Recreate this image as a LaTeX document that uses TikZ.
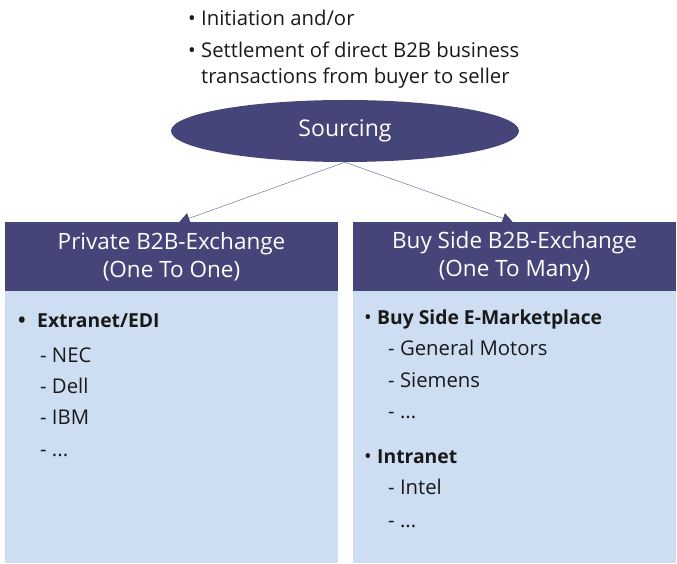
\documentclass[tikz,border=0pt]{standalone}
\usepackage{fontspec}
\setmainfont{Open Sans}
\usetikzlibrary{arrows.meta,shapes.geometric,positioning}
\definecolor{navy}{RGB}{70,69,122}
\definecolor{paleblue}{RGB}{205,221,242}
\definecolor{linkline}{RGB}{130,130,175}
\definecolor{ink}{RGB}{25,25,25}
\newcommand{\bul}[1]{\makebox[#1][l]{•}}
\newcommand{\lead}[1]{{\fontsize{19.3}{21}\selectfont\bfseries #1}}

\begin{document}
\begin{tikzpicture}[x=1pt,y=-1pt,
  txt/.style={anchor=base west,inner sep=0pt,text=ink,font=\fontsize{20.3}{23}\selectfont},
  head/.style={rectangle,fill=navy,text=white,minimum height=69pt,inner sep=0pt,align=center,
    font=\fontsize{22.5}{28}\selectfont},
  body/.style={rectangle,fill=paleblue,minimum height=272pt,inner sep=0pt},
  link/.style={draw=linkline,line width=0.6pt,-{Triangle[length=10pt,width=11pt,fill=navy,color=navy]}}]
\useasboundingbox (0,0) rectangle (677,564);
% top notes
\node[txt] (n1) at (188,26) {\bul{13pt}Initiation and/or};
\node[txt] (n2) at (188,58) {\bul{13pt}Settlement of direct B2B business};
\node[txt] (n3) at (201,84) {transactions from buyer to seller};
% root
\node[ellipse,fill=navy,text=white,minimum width=348pt,minimum height=62pt,inner sep=0pt,
  font=\fontsize{23}{26}\selectfont] (sourcing) at (345,131) {Sourcing};
% boxes
\node[head,minimum width=333pt] (privhead) at (171.5,256.5) {Private B2B-Exchange\\(One To One)};
\node[body,minimum width=333pt,below=0pt of privhead] (privbody) {};
\node[head,minimum width=323pt] (buyhead) at (514.5,256.5) {Buy Side B2B-Exchange\\(One To Many)};
\node[body,minimum width=323pt,below=0pt of buyhead] (buybody) {};
% links
\draw[link] (sourcing.south) -- ([xshift=8pt]privhead.north);
\draw[link] (sourcing.south) -- ([xshift=-2pt]buyhead.north);
% private items
\node[txt] (extranet) at (18,327) {\makebox[19pt][l]{\bfseries •}\lead{Extranet/EDI}};
\node[txt] (nec) at (40,362) {- NEC};
\node[txt] (dell) at (40,393) {- Dell};
\node[txt] (ibm) at (40,424) {- IBM};
\node[txt] (privmore) at (40,456) {- ...};
% buy side items
\node[txt] (emarket) at (364,324) {\bul{13pt}\lead{Buy Side E-Marketplace}};
\node[txt] (gm) at (388,355) {- General Motors};
\node[txt] (siemens) at (388,387) {- Siemens};
\node[txt] (buymore) at (388,418) {- ...};
\node[txt] (intranet) at (364,463) {\bul{13pt}\lead{Intranet}};
\node[txt] (intel) at (388,494) {- Intel};
\node[txt] (intramore) at (388,527) {- ...};
\end{tikzpicture}
\end{document}
